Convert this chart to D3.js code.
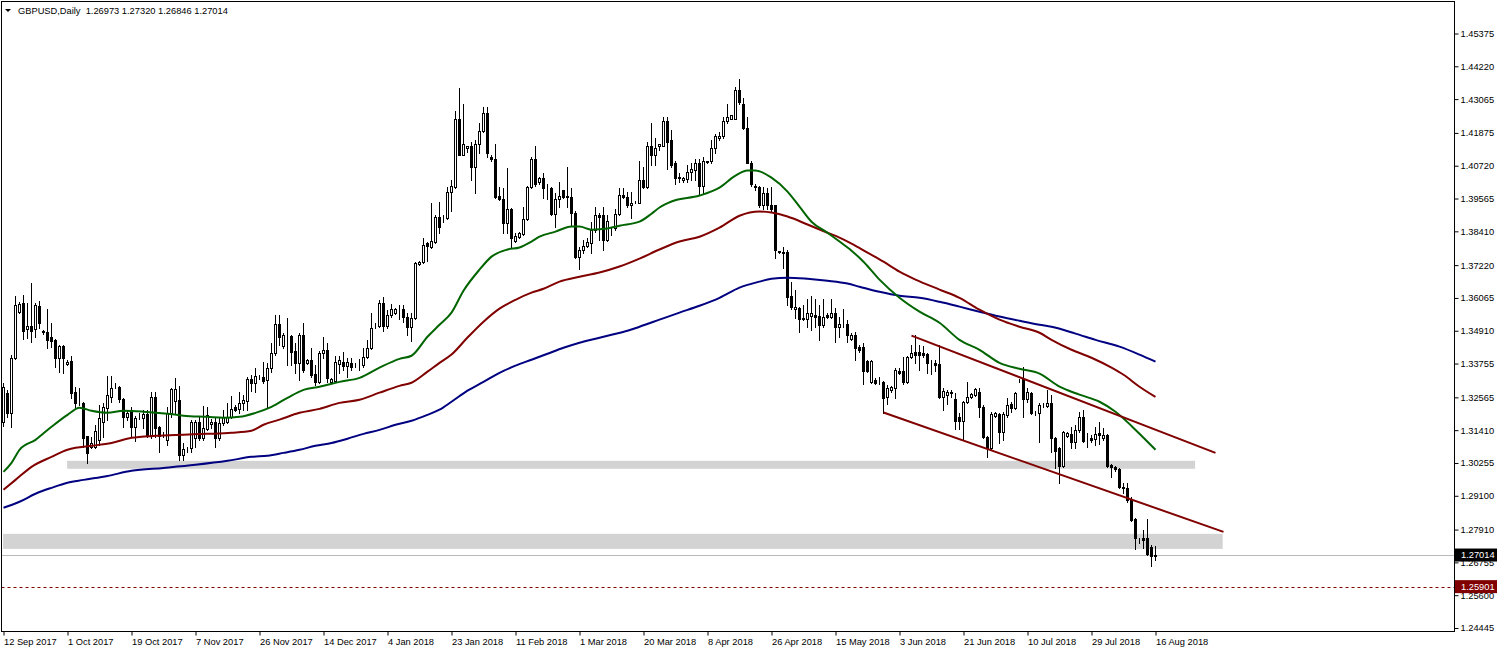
<!DOCTYPE html>
<html><head><meta charset="utf-8">
<script src="https://cdn.jsdelivr.net/npm/d3@7"></script>
<style>
html,body{margin:0;padding:0;background:#fff;}
svg{display:block;}
text{font-family:"Liberation Sans",Arial,sans-serif;}
</style></head><body>
<svg id="chart" width="1497" height="652"></svg>
<script>
// ---------------- data ----------------
const symbolTitle = "GBPUSD,Daily";
const lastBarText = ["1.26973", "1.27320", "1.26846", "1.27014"];

const dateLabels = ["12 Sep 2017","1 Oct 2017","19 Oct 2017","7 Nov 2017","26 Nov 2017","14 Dec 2017","4 Jan 2018","23 Jan 2018","11 Feb 2018","1 Mar 2018","20 Mar 2018","8 Apr 2018","26 Apr 2018","15 May 2018","3 Jun 2018","21 Jun 2018","10 Jul 2018","29 Jul 2018","16 Aug 2018"];
const barsPerLabel = 16;

const priceTicks = [1.45375,1.44220,1.43065,1.41875,1.40720,1.39565,1.38410,1.37220,1.36065,1.34910,1.33755,1.32565,1.31410,1.30255,1.29100,1.27910,1.26755,1.25600,1.24445];

const open = [
1.3171,1.3273,1.3202,1.3396,1.3558,1.3590,1.3498,1.3509,1.3498,1.3579,
1.3489,1.3488,1.3470,1.3459,1.3396,1.3438,1.3375,1.3385,1.3276,1.3238,
1.3237,1.3121,1.3082,1.3082,1.3107,1.3171,1.3220,1.3258,1.3293,1.3294,
1.3251,1.3188,1.3213,1.3153,1.3187,1.3185,1.3199,1.3125,1.3258,1.3153,
1.3131,1.3107,1.3202,1.3244,1.3248,1.3054,1.3074,1.3079,1.3114,1.3171,
1.3114,1.3146,1.3164,1.3171,1.3114,1.3167,1.3171,1.3188,1.3223,1.3216,
1.3237,1.3244,1.3322,1.3308,1.3328,1.3329,1.3318,1.3361,1.3414,1.3516,
1.3438,1.3472,1.3473,1.3421,1.3378,1.3477,1.3378,1.3389,1.3340,1.3311,
1.3414,1.3424,1.3311,1.3315,1.3375,1.3382,1.3368,1.3378,1.3372,1.3374,
1.3371,1.3400,1.3431,1.3508,1.3509,1.3590,1.3509,1.3548,1.3555,1.3568,
1.3569,1.3541,1.3505,1.3537,1.3727,1.3734,1.3801,1.3787,1.3805,1.3893,
1.3892,1.3889,1.3981,1.3998,1.4238,1.4111,1.4133,1.4143,1.4069,1.4150,
1.4196,1.4259,1.4104,1.4094,1.3967,1.3956,1.3872,1.3921,1.3808,1.3822,
1.3833,1.3886,1.3998,1.4094,1.4013,1.4030,1.3997,1.3995,1.3903,1.3956,
1.3985,1.3964,1.3963,1.3907,1.3752,1.3777,1.3791,1.3801,1.3847,1.3900,
1.3900,1.3812,1.3852,1.3851,1.3903,1.3970,1.3963,1.3932,1.3941,1.3942,
1.4023,1.3998,1.4140,1.4111,1.4140,1.4143,1.4228,1.4161,1.4080,1.4031,
1.4020,1.4027,1.4051,1.4058,1.4083,1.4002,1.4086,1.4087,1.4133,1.4171,
1.4175,1.4228,1.4238,1.4238,1.4337,1.4291,1.4206,1.4083,1.3999,1.3998,
1.3935,1.3977,1.3932,1.3932,1.3771,1.3770,1.3770,1.3615,1.3569,1.3572,
1.3533,1.3533,1.3544,1.3548,1.3544,1.3512,1.3548,1.3541,1.3555,1.3505,
1.3513,1.3516,1.3463,1.3477,1.3435,1.3435,1.3385,1.3311,1.3318,1.3307,
1.3311,1.3258,1.3283,1.3290,1.3350,1.3350,1.3311,1.3400,1.3417,1.3417,
1.3414,1.3410,1.3379,1.3378,1.3375,1.3258,1.3266,1.3276,1.3251,1.3188,
1.3174,1.3241,1.3258,1.3266,1.3276,1.3223,1.3118,1.3079,1.3192,1.3199,
1.3135,1.3195,1.3234,1.3220,1.3314,1.3322,1.3251,1.3273,1.3205,1.3202,
1.3229,1.3227,1.3237,1.3114,1.3079,1.3015,1.3121,1.3128,1.3100,1.3142,
1.3188,1.3110,1.3114,1.3111,1.3132,1.3114,1.3125,1.3019,1.3012,1.3005,
1.2942,1.2938,1.2899,1.2829,1.2759,1.2762,1.2762,1.2730,1.26973];

const high = [
1.3308,1.3283,1.3407,1.3615,1.3593,1.3618,1.3590,1.3660,1.3590,1.3597,
1.3495,1.3569,1.3519,1.3462,1.3440,1.3440,1.3389,1.3403,1.3294,1.3290,
1.3239,1.3122,1.3118,1.3160,1.3230,1.3237,1.3333,1.3333,1.3308,1.3296,
1.3253,1.3213,1.3223,1.3192,1.3202,1.3213,1.3213,1.3276,1.3276,1.3155,
1.3135,1.3223,1.3290,1.3326,1.3297,1.3096,1.3082,1.3178,1.3178,1.3192,
1.3227,1.3223,1.3181,1.3188,1.3188,1.3213,1.3237,1.3262,1.3230,1.3276,
1.3266,1.3329,1.3336,1.3361,1.3336,1.3382,1.3378,1.3449,1.3548,1.3548,
1.3484,1.3537,1.3475,1.3449,1.3484,1.3519,1.3392,1.3431,1.3371,1.3421,
1.3470,1.3449,1.3325,1.3403,1.3403,1.3417,1.3396,1.3396,1.3378,1.3392,
1.3431,1.3459,1.3555,1.3519,1.3600,1.3611,1.3565,1.3586,1.3572,1.3583,
1.3583,1.3555,1.3555,1.3734,1.3738,1.3819,1.3805,1.3942,1.3900,1.3946,
1.3900,1.3998,1.4023,1.4263,1.4344,1.4288,1.4140,1.4157,1.4161,1.4224,
1.4277,1.4277,1.4108,1.4150,1.3998,1.3995,1.4065,1.3924,1.3836,1.3840,
1.3925,1.4002,1.4104,1.4140,1.4034,1.4048,1.4009,1.3998,1.3977,1.4013,
1.3988,1.4069,1.3995,1.3911,1.3787,1.3812,1.3819,1.3875,1.3928,1.3907,
1.3928,1.3900,1.3858,1.3918,1.3995,1.3995,1.3981,1.3981,1.3949,1.4087,
1.4069,1.4157,1.4224,1.4171,1.4147,1.4242,1.4242,1.4199,1.4087,1.4048,
1.4034,1.4076,1.4083,1.4097,1.4094,1.4101,1.4090,1.4164,1.4185,1.4189,
1.4245,1.4288,1.4252,1.4348,1.4376,1.4312,1.4245,1.4087,1.4006,1.4000,
1.3998,1.3995,1.3998,1.3935,1.3773,1.3787,1.3777,1.3664,1.3636,1.3576,
1.3583,1.3604,1.3615,1.3604,1.3583,1.3604,1.3555,1.3604,1.3572,1.3541,
1.3569,1.3530,1.3484,1.3488,1.3442,1.3449,1.3389,1.3389,1.3325,1.3329,
1.3313,1.3301,1.3297,1.3361,1.3361,1.3400,1.3403,1.3442,1.3477,1.3442,
1.3438,1.3412,1.3389,1.3389,1.3442,1.3290,1.3283,1.3283,1.3273,1.3202,
1.3244,1.3311,1.3273,1.3290,1.3290,1.3230,1.3120,1.3206,1.3206,1.3202,
1.3206,1.3255,1.3241,1.3276,1.3322,1.3364,1.3290,1.3276,1.3209,1.3237,
1.3237,1.3283,1.3266,1.3118,1.3082,1.3139,1.3135,1.3153,1.3160,1.3206,
1.3213,1.3132,1.3125,1.3153,1.3171,1.3149,1.3128,1.3022,1.3015,1.3008,
1.2956,1.2956,1.2906,1.2832,1.2762,1.2790,1.2829,1.2737,1.27320];

const low = [
1.3156,1.3188,1.3153,1.3392,1.3555,1.3463,1.3467,1.3452,1.3470,1.3502,
1.3481,1.3431,1.3435,1.3364,1.3347,1.3343,1.3371,1.3255,1.3220,1.3230,
1.3082,1.3026,1.3079,1.3079,1.3089,1.3118,1.3178,1.3241,1.3290,1.3241,
1.3153,1.3178,1.3121,1.3104,1.3181,1.3149,1.3118,1.3114,1.3118,1.3065,
1.3118,1.3089,1.3188,1.3202,1.3037,1.3037,1.3065,1.3065,1.3082,1.3107,
1.3107,1.3142,1.3149,1.3082,1.3107,1.3160,1.3167,1.3185,1.3209,1.3202,
1.3213,1.3213,1.3280,1.3276,1.3322,1.3308,1.3220,1.3347,1.3407,1.3442,
1.3431,1.3371,1.3371,1.3343,1.3318,1.3347,1.3375,1.3329,1.3301,1.3308,
1.3396,1.3311,1.3308,1.3311,1.3343,1.3354,1.3329,1.3354,1.3364,1.3354,
1.3364,1.3396,1.3428,1.3502,1.3505,1.3491,1.3502,1.3541,1.3551,1.3534,
1.3523,1.3477,1.3456,1.3533,1.3724,1.3731,1.3738,1.3784,1.3801,1.3836,
1.3875,1.3886,1.3911,1.3995,1.4108,1.4108,1.4122,1.4020,1.3977,1.4118,
1.4189,1.4101,1.4090,1.3960,1.3953,1.3836,1.3836,1.3787,1.3805,1.3819,
1.3829,1.3882,1.3995,1.4002,1.4009,1.3960,1.3956,1.3900,1.3858,1.3928,
1.3960,1.3928,1.3865,1.3748,1.3710,1.3766,1.3787,1.3766,1.3840,1.3812,
1.3777,1.3808,1.3829,1.3847,1.3900,1.3960,1.3928,1.3889,1.3939,1.3939,
1.3995,1.3995,1.4076,1.4076,1.4129,1.4140,1.4062,1.4066,1.4006,1.4016,
1.4013,1.4013,1.4023,1.4020,1.3970,1.3977,1.4083,1.4083,1.4118,1.4161,
1.4171,1.4221,1.4235,1.4235,1.4288,1.4203,1.4080,1.4002,1.3988,1.3925,
1.3918,1.3918,1.3911,1.3748,1.3766,1.3713,1.3583,1.3569,1.3537,1.3488,
1.3530,1.3505,1.3495,1.3505,1.3459,1.3505,1.3537,1.3537,1.3452,1.3470,
1.3505,1.3452,1.3459,1.3389,1.3417,1.3304,1.3347,1.3308,1.3304,1.3304,
1.3202,1.3234,1.3276,1.3255,1.3340,1.3304,1.3308,1.3396,1.3378,1.3354,
1.3400,1.3343,1.3340,1.3350,1.3255,1.3213,1.3234,1.3258,1.3146,1.3146,
1.3111,1.3237,1.3255,1.3262,1.3188,1.3114,1.3047,1.3075,1.3188,1.3096,
1.3107,1.3188,1.3206,1.3216,1.3311,1.3188,1.3241,1.3199,1.3195,1.3100,
1.3223,1.3223,1.3065,1.3008,1.2956,1.3012,1.3118,1.3079,1.3079,1.3135,
1.3100,1.3082,1.3100,1.3089,1.3093,1.3107,1.3012,1.2977,1.2998,1.2938,
1.2921,1.2889,1.2822,1.2723,1.2744,1.2726,1.2702,1.2663,1.26846];

const close = [
1.3294,1.3202,1.3396,1.3583,1.3586,1.3491,1.3509,1.3491,1.3583,1.3519,
1.3488,1.3459,1.3456,1.3396,1.3438,1.3396,1.3382,1.3273,1.3237,1.3236,
1.3114,1.3061,1.3096,1.3139,1.3185,1.3223,1.3266,1.3290,1.3294,1.3251,
1.3188,1.3202,1.3153,1.3185,1.3188,1.3199,1.3125,1.3258,1.3149,1.3121,
1.3132,1.3202,1.3287,1.3287,1.3054,1.3075,1.3075,1.3171,1.3171,1.3114,
1.3149,1.3195,1.3171,1.3114,1.3167,1.3188,1.3188,1.3216,1.3213,1.3237,
1.3248,1.3322,1.3308,1.3333,1.3329,1.3315,1.3361,1.3414,1.3516,1.3470,
1.3477,1.3473,1.3417,1.3378,1.3477,1.3354,1.3389,1.3336,1.3311,1.3414,
1.3424,1.3325,1.3322,1.3382,1.3389,1.3368,1.3382,1.3364,1.3371,1.3375,
1.3400,1.3431,1.3502,1.3509,1.3590,1.3509,1.3548,1.3569,1.3569,1.3569,
1.3541,1.3505,1.3537,1.3731,1.3734,1.3794,1.3791,1.3808,1.3893,1.3858,
1.3893,1.3981,1.4002,1.4238,1.4111,1.4147,1.4140,1.4069,1.4150,1.4196,
1.4259,1.4118,1.4094,1.3963,1.3956,1.3872,1.3921,1.3819,1.3826,1.3836,
1.3886,1.3998,1.4094,1.4006,1.4030,1.3995,1.3998,1.3903,1.3956,1.3967,
1.3963,1.3963,1.3907,1.3752,1.3777,1.3791,1.3805,1.3847,1.3900,1.3893,
1.3812,1.3879,1.3851,1.3903,1.3970,1.3963,1.3932,1.3942,1.3942,1.4023,
1.3998,1.4140,1.4111,1.4133,1.4147,1.4228,1.4157,1.4076,1.4030,1.4030,
1.4030,1.4051,1.4062,1.4083,1.4002,1.4090,1.4087,1.4133,1.4175,1.4178,
1.4228,1.4242,1.4249,1.4337,1.4295,1.4206,1.4083,1.4006,1.3998,1.3935,
1.3977,1.3932,1.3921,1.3777,1.3770,1.3766,1.3611,1.3576,1.3576,1.3533,
1.3537,1.3555,1.3555,1.3541,1.3512,1.3541,1.3541,1.3555,1.3505,1.3516,
1.3512,1.3477,1.3477,1.3431,1.3424,1.3350,1.3350,1.3385,1.3308,1.3308,
1.3255,1.3290,1.3294,1.3354,1.3343,1.3311,1.3400,1.3414,1.3407,1.3407,
1.3407,1.3378,1.3378,1.3371,1.3258,1.3280,1.3276,1.3273,1.3174,1.3174,
1.3241,1.3258,1.3269,1.3287,1.3223,1.3118,1.3079,1.3199,1.3202,1.3135,
1.3199,1.3230,1.3220,1.3273,1.3315,1.3251,1.3276,1.3202,1.3206,1.3230,
1.3230,1.3237,1.3114,1.3068,1.3015,1.3135,1.3132,1.3100,1.3142,1.3188,
1.3104,1.3111,1.3107,1.3128,1.3125,1.3125,1.3015,1.3012,1.3005,1.2942,
1.2938,1.2896,1.2825,1.2762,1.2758,1.2755,1.2705,1.2698,1.27014];

// moving averages: [bar index, price]
const maFast = [[0,1.2994],[2,1.3026],[4,1.3072],[8,1.3107],[12,1.3153],[16,1.3195],[19,1.3220],[22,1.3209],[26,1.3202],[30,1.3209],[35,1.3206],[41,1.3199],[45,1.3192],[51,1.3188],[55,1.3185],[59,1.3188],[63,1.3202],[67,1.3223],[71,1.3255],[75,1.3283],[79,1.3294],[84,1.3311],[89,1.3325],[94,1.3361],[99,1.3392],[102,1.3403],[106,1.3470],[109,1.3512],[112,1.3555],[115,1.3632],[119,1.3706],[122,1.3752],[126,1.3777],[129,1.3784],[132,1.3805],[134,1.3822],[138,1.3840],[142,1.3858],[144,1.3858],[147,1.3847],[151,1.3851],[154,1.3861],[159,1.3875],[162,1.3903],[164,1.3925],[167,1.3946],[174,1.3967],[179,1.3995],[183,1.4037],[186,1.4055],[188,1.4055],[192,1.4030],[196,1.3981],[199,1.3928],[202,1.3875],[206,1.3836],[209,1.3805],[212,1.3773],[215,1.3734],[219,1.3671],[224,1.3607],[229,1.3558],[234,1.3519],[239,1.3459],[244,1.3424],[249,1.3378],[254,1.3357],[259,1.3340],[264,1.3294],[269,1.3266],[274,1.3241],[278,1.3206],[282,1.3156],[285,1.3114],[288,1.3072]];
const maMid = [[0,1.2931],[3,1.2966],[7,1.3012],[12,1.3047],[16,1.3072],[18,1.3079],[22,1.3086],[27,1.3096],[32,1.3114],[38,1.3121],[45,1.3125],[51,1.3128],[57,1.3132],[62,1.3139],[65,1.3160],[69,1.3178],[74,1.3202],[79,1.3216],[84,1.3237],[89,1.3248],[94,1.3273],[99,1.3297],[102,1.3308],[106,1.3347],[109,1.3378],[112,1.3407],[116,1.3467],[120,1.3523],[124,1.3569],[128,1.3600],[132,1.3625],[135,1.3639],[139,1.3664],[144,1.3681],[149,1.3696],[154,1.3717],[159,1.3745],[164,1.3777],[169,1.3805],[174,1.3822],[179,1.3854],[184,1.3896],[189,1.3911],[192,1.3907],[196,1.3893],[201,1.3865],[206,1.3836],[209,1.3819],[212,1.3798],[216,1.3766],[220,1.3734],[224,1.3699],[228,1.3671],[234,1.3636],[239,1.3607],[244,1.3565],[249,1.3530],[254,1.3505],[259,1.3484],[262,1.3459],[267,1.3424],[272,1.3396],[277,1.3361],[280,1.3336],[284,1.3294],[288,1.3258]];
const maSlow = [[0,1.2868],[4,1.2889],[8,1.2917],[12,1.2938],[16,1.2956],[20,1.2966],[26,1.2980],[32,1.2998],[40,1.3008],[48,1.3019],[56,1.3033],[62,1.3047],[66,1.3051],[70,1.3061],[74,1.3072],[78,1.3086],[82,1.3096],[86,1.3111],[90,1.3128],[94,1.3142],[98,1.3160],[102,1.3174],[106,1.3195],[109,1.3213],[112,1.3241],[116,1.3280],[120,1.3311],[124,1.3343],[128,1.3368],[132,1.3389],[136,1.3410],[140,1.3431],[144,1.3449],[148,1.3463],[152,1.3477],[156,1.3491],[159,1.3505],[164,1.3530],[169,1.3555],[174,1.3579],[179,1.3607],[184,1.3643],[189,1.3664],[192,1.3674],[196,1.3678],[201,1.3674],[206,1.3667],[211,1.3657],[214,1.3646],[219,1.3628],[224,1.3614],[229,1.3607],[234,1.3593],[239,1.3576],[244,1.3558],[249,1.3541],[254,1.3526],[259,1.3512],[262,1.3505],[268,1.3481],[273,1.3459],[279,1.3435],[284,1.3407],[288,1.3382]];

// drawn objects: trend channel and support zones ([bar index, price])
const channelUpper = [[227,1.3474],[303,1.3061]];
const channelLower = [[220,1.3203],[305,1.2783]];
const zoneA = {from:15.9, to:297.9, top:1.3033, bottom:1.3005};
const zoneB = {from:-0.1, to:304.8, top:1.2776, bottom:1.2723};
const bidPrice = 1.27014;
const alertPrice = 1.25901;

// ---------------- layout ----------------
const W = 1497, H = 652;
const FS = "9.3px";
const plot = {left:1.5, top:1.5, right:1454.5, bottom:631.5};
const svg = d3.select("#chart");

const x = d3.scaleLinear().domain([0, 288]).range([3.5, 1155.5]);
const y = d3.scaleLinear().domain([1.24445, 1.45375]).range([628, 33.5]);

svg.append("defs").append("clipPath").attr("id","clip")
  .append("rect").attr("x",plot.left).attr("y",plot.top)
  .attr("width",plot.right-plot.left).attr("height",plot.bottom-plot.top);

const g = svg.append("g").attr("clip-path","url(#clip)");

// zones
[zoneA, zoneB].forEach(z => {
  g.append("rect")
    .attr("x", x(z.from)).attr("width", x(z.to)-x(z.from))
    .attr("y", y(z.top)).attr("height", y(z.bottom)-y(z.top))
    .attr("fill","#d3d3d3");
});

// bid line and alert line
g.append("line").attr("x1",plot.left).attr("x2",plot.right)
  .attr("y1",Math.round(y(bidPrice))+0.5).attr("y2",Math.round(y(bidPrice))+0.5)
  .attr("stroke","#b8b8b8").attr("stroke-width",1);
g.append("line").attr("x1",plot.left).attr("x2",plot.right)
  .attr("y1",Math.round(y(alertPrice))+0.5).attr("y2",Math.round(y(alertPrice))+0.5)
  .attr("stroke","#800000").attr("stroke-width",1).attr("stroke-dasharray","3,3");

// candles
const bars = open.map((o,i) => ({i, o, h:high[i], l:low[i], c:close[i]}));
const cg = g.append("g").attr("shape-rendering","crispEdges");
cg.selectAll("line.wick").data(bars).join("line").attr("class","wick")
  .attr("x1",d=>x(d.i)).attr("x2",d=>x(d.i))
  .attr("y1",d=>Math.round(y(d.h))).attr("y2",d=>Math.round(y(d.l))+1)
  .attr("stroke","#000").attr("stroke-width",1);
cg.selectAll("rect.body").data(bars).join("rect").attr("class","body")
  .attr("x",d=>x(d.i)-1).attr("width",2)
  .attr("y",d=>Math.round(y(Math.max(d.o,d.c)))+0.5)
  .attr("height",d=>Math.round(y(Math.min(d.o,d.c)))-Math.round(y(Math.max(d.o,d.c))))
  .attr("fill",d=>d.c>=d.o?"#fff":"#000")
  .attr("stroke","#000").attr("stroke-width",1);

// moving averages
const maLine = d3.line().x(d=>x(d[0])).y(d=>y(d[1])).curve(d3.curveMonotoneX);
[[maSlow,"#000080"],[maMid,"#800000"],[maFast,"#006400"]].forEach(([d,col]) => {
  g.append("path").attr("d",maLine(d)).attr("fill","none")
    .attr("stroke",col).attr("stroke-width",2);
});

// trend channel
const tl = d3.line().x(d=>x(d[0])).y(d=>y(d[1]));
[channelUpper, channelLower].forEach(d => {
  g.append("path").attr("d",tl(d)).attr("fill","none")
    .attr("stroke","#800000").attr("stroke-width",2);
});

// frame
svg.append("rect").attr("x",plot.left).attr("y",plot.top)
  .attr("width",plot.right-plot.left).attr("height",plot.bottom-plot.top)
  .attr("fill","none").attr("stroke","#000").attr("stroke-width",1)
  .attr("shape-rendering","crispEdges");

// price axis
const yAxis = d3.axisRight(y).tickValues(priceTicks).tickFormat(d3.format(".5f"))
  .tickSize(4).tickPadding(2);
const ya = svg.append("g").attr("transform",`translate(${plot.right},0)`).call(yAxis);
ya.select(".domain").remove();
ya.selectAll("text").attr("font-size",FS).attr("font-family","Liberation Sans, Arial, sans-serif").attr("fill","#000");
ya.selectAll("line").attr("stroke","#000");

// date axis
const tickIdx = dateLabels.map((d,k)=>k*barsPerLabel);
const xAxis = d3.axisBottom(x).tickValues(tickIdx).tickFormat((d,k)=>dateLabels[k]).tickSize(4);
const xa = svg.append("g").attr("transform",`translate(0,${plot.bottom})`).call(xAxis);
xa.select(".domain").remove();
xa.selectAll("line").attr("stroke","#000");
xa.selectAll("text").attr("text-anchor","start").attr("x",0).attr("y",13).attr("dy",0)
  .attr("font-size",FS).attr("font-family","Liberation Sans, Arial, sans-serif").attr("fill","#000");

// price tags
function tag(price, bg) {
  const yy = y(price);
  svg.append("rect").attr("x",plot.right+0.5).attr("y",yy-6.5).attr("width",W-plot.right).attr("height",13).attr("fill",bg);
  svg.append("text").attr("x",plot.right+6.5).attr("y",yy).attr("dy","0.35em")
    .attr("font-size",FS).attr("fill","#fff").text(d3.format(".5f")(price));
}
tag(bidPrice,"#000");
tag(alertPrice,"#800000");

// title
svg.append("path").attr("d","M5,9L11,9L8,12Z").attr("fill","#000");
svg.append("text").attr("x",18).attr("y",14).attr("font-size",FS).attr("fill","#000")
  .style("white-space","pre")
  .text(symbolTitle + "  " + lastBarText.join(" "));
</script>
</body></html>
